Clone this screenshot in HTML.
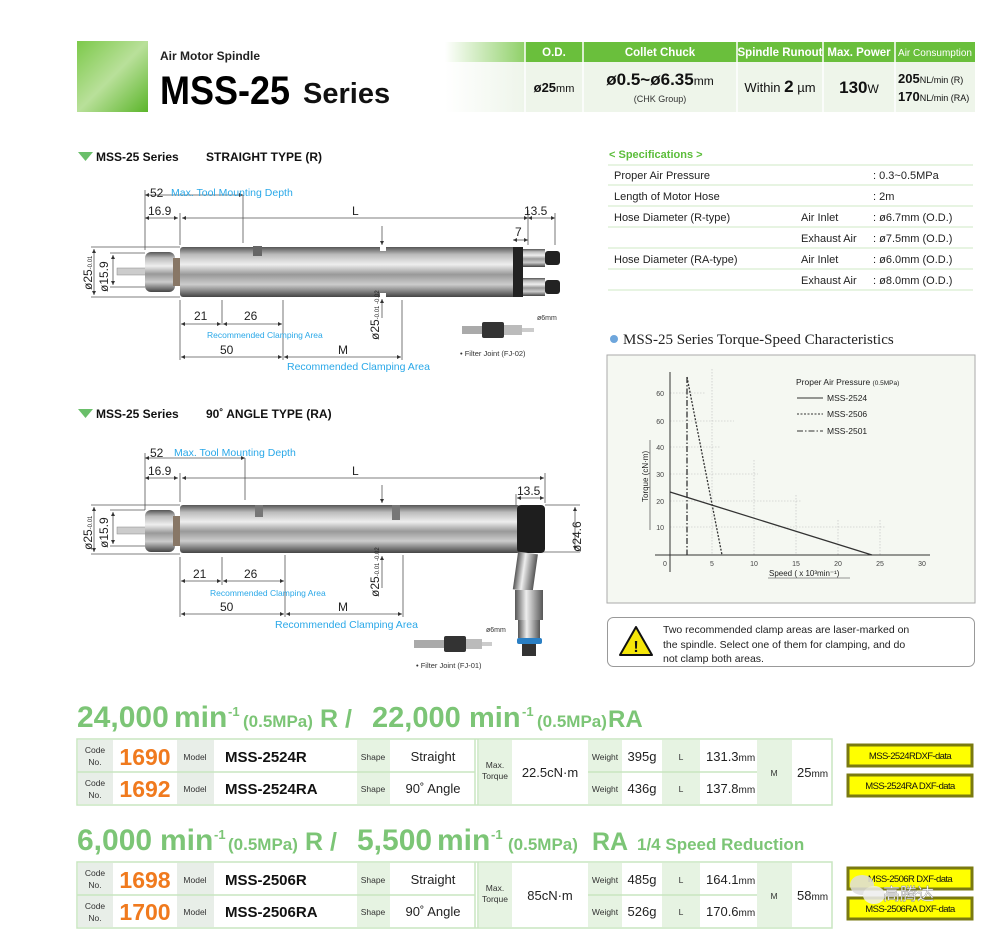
<!DOCTYPE html>
<html><head><meta charset="utf-8"><style>
body{margin:0;background:#fff;width:1000px;height:939px;overflow:hidden}
svg{display:block;font-family:"Liberation Sans","Noto Sans CJK SC",sans-serif}
</style></head><body>
<svg width="1000" height="939" viewBox="0 0 1000 939" xmlns="http://www.w3.org/2000/svg">
<defs>
<linearGradient id="gsq" x1="0" y1="0" x2="1" y2="1"><stop offset="0" stop-color="#7cc94a"/><stop offset="0.5" stop-color="#b9e09a"/><stop offset="1" stop-color="#5bb52a"/></linearGradient>
<linearGradient id="gfade" x1="0" x2="1"><stop offset="0" stop-color="#fff"/><stop offset="1" stop-color="#8fd068"/></linearGradient>
<linearGradient id="gfade2" x1="0" x2="1"><stop offset="0" stop-color="#fff"/><stop offset="1" stop-color="#eef5ea"/></linearGradient>
<linearGradient id="metal" x1="0" y1="0" x2="0" y2="1"><stop offset="0" stop-color="#555"/><stop offset="0.15" stop-color="#bbb"/><stop offset="0.35" stop-color="#eee"/><stop offset="0.55" stop-color="#999"/><stop offset="0.75" stop-color="#ccc"/><stop offset="1" stop-color="#444"/></linearGradient>
<linearGradient id="metalv" x1="0" y1="0" x2="1" y2="0"><stop offset="0" stop-color="#555"/><stop offset="0.4" stop-color="#eee"/><stop offset="1" stop-color="#555"/></linearGradient>
<marker id="ar" viewBox="0 0 6 6" refX="6" refY="3" markerWidth="5" markerHeight="5" orient="auto-start-reverse"><path d="M0,0L6,3L0,6z" fill="#333"/></marker>
</defs>

<!-- HEADER -->
<rect x="77" y="41" width="71" height="71" fill="url(#gsq)"/>
<text x="160" y="60" font-size="12" font-weight="bold" fill="#222">Air Motor Spindle</text>
<text x="160" y="104" font-size="40" font-weight="bold" fill="#000" textLength="130" lengthAdjust="spacingAndGlyphs">MSS-25</text>
<text x="303" y="103" font-size="29" font-weight="bold" fill="#111">Series</text>

<rect x="445" y="42" width="80" height="20" fill="url(#gfade)"/>
<rect x="445" y="62" width="80" height="50" fill="url(#gfade2)"/>
<rect x="525" y="42" width="450" height="20" fill="#6abf3c"/>
<rect x="525" y="62" width="450" height="50" fill="#eef5ea"/>
<g stroke="#fff" stroke-width="1.5"><line x1="525" y1="42" x2="525" y2="112"/><line x1="583" y1="42" x2="583" y2="112"/><line x1="737" y1="42" x2="737" y2="112"/><line x1="823" y1="42" x2="823" y2="112"/><line x1="895" y1="42" x2="895" y2="112"/></g>
<g fill="#fff" font-size="11.5" text-anchor="middle" font-weight="bold">
<text x="554" y="56">O.D.</text><text x="660" y="56">Collet Chuck</text><text x="780" y="56">Spindle Runout</text><text x="859" y="56">Max. Power</text><text x="935" y="56" font-size="10" font-weight="normal">Air Consumption</text></g>
<text x="554" y="92" font-size="13" text-anchor="middle" fill="#111"><tspan font-weight="bold">ø25</tspan><tspan font-size="11">mm</tspan></text>
<text x="660" y="85" font-size="17" text-anchor="middle" fill="#111"><tspan font-weight="bold">ø0.5~ø6.35</tspan><tspan font-size="12">mm</tspan></text>
<text x="660" y="102" font-size="9" text-anchor="middle" fill="#333">(CHK Group)</text>
<text x="780" y="92" font-size="13" text-anchor="middle" fill="#111">Within <tspan font-weight="bold" font-size="17">2</tspan> µm</text>
<text x="859" y="93" font-size="17" font-weight="bold" text-anchor="middle" fill="#111">130<tspan font-size="12" font-weight="normal">W</tspan></text>
<text x="898" y="83" font-size="13" font-weight="bold" fill="#111">205<tspan font-size="9" font-weight="normal">NL/min (R)</tspan></text>
<text x="898" y="101" font-size="13" font-weight="bold" fill="#111">170<tspan font-size="9" font-weight="normal">NL/min (RA)</tspan></text>

<!-- SECTION TITLES -->
<path d="M78,152 L93,152 L85.5,161z" fill="#6abf6a"/>
<text y="161" font-size="12" font-weight="bold" fill="#111"><tspan x="96">MSS-25 Series</tspan><tspan x="206">STRAIGHT TYPE (R)</tspan></text>
<path d="M78,409 L93,409 L85.5,418z" fill="#6abf6a"/>
<text y="418" font-size="12" font-weight="bold" fill="#111"><tspan x="96">MSS-25 Series</tspan><tspan x="206">90˚ ANGLE TYPE (RA)</tspan></text>

<!-- DRAWING 1 -->
<g stroke="#555" stroke-width="0.8" fill="none">
<line x1="145" y1="195" x2="243" y2="195" marker-start="url(#ar)" marker-end="url(#ar)"/>
<line x1="145" y1="190" x2="145" y2="250"/><line x1="243" y1="195" x2="243" y2="243"/>
<line x1="145" y1="218" x2="178" y2="218" marker-start="url(#ar)" marker-end="url(#ar)"/>
<line x1="180" y1="213" x2="180" y2="245"/>
<line x1="182" y1="218" x2="528" y2="218" marker-start="url(#ar)" marker-end="url(#ar)"/>
<line x1="528" y1="218" x2="555" y2="218" marker-start="url(#ar)" marker-end="url(#ar)"/>
<line x1="555" y1="213" x2="555" y2="245"/><line x1="528" y1="210" x2="528" y2="245"/>
<line x1="513" y1="240" x2="528" y2="240" marker-start="url(#ar)" marker-end="url(#ar)"/>
<line x1="382" y1="226" x2="382" y2="245" marker-end="url(#ar)"/>
<line x1="91" y1="247" x2="180" y2="247"/><line x1="91" y1="297" x2="180" y2="297"/>
<line x1="94" y1="249" x2="94" y2="295" marker-start="url(#ar)" marker-end="url(#ar)"/>
<line x1="110" y1="253" x2="145" y2="253"/><line x1="110" y1="287" x2="145" y2="287"/>
<line x1="113" y1="255" x2="113" y2="285" marker-start="url(#ar)" marker-end="url(#ar)"/>
<line x1="180" y1="300" x2="180" y2="360"/><line x1="222" y1="300" x2="222" y2="325"/><line x1="283" y1="300" x2="283" y2="360"/><line x1="402" y1="300" x2="402" y2="360"/>
<line x1="181" y1="324" x2="221" y2="324" marker-start="url(#ar)" marker-end="url(#ar)"/>
<line x1="223" y1="324" x2="282" y2="324" marker-start="url(#ar)" marker-end="url(#ar)"/>
<line x1="181" y1="357" x2="282" y2="357" marker-start="url(#ar)" marker-end="url(#ar)"/>
<line x1="284" y1="357" x2="401" y2="357" marker-start="url(#ar)" marker-end="url(#ar)"/>
<line x1="382" y1="318" x2="382" y2="299" marker-end="url(#ar)"/>
</g>
<rect x="117" y="268" width="30" height="7" fill="#ccc" stroke="#888" stroke-width="0.5"/>
<rect x="145" y="252" width="30" height="40" rx="6" fill="url(#metal)"/>
<rect x="173" y="258" width="8" height="28" fill="#876"/>
<rect x="180" y="247" width="340" height="50" rx="3" fill="url(#metal)"/>
<rect x="253" y="246" width="9" height="10" fill="#666"/>
<rect x="380" y="246" width="6" height="5" fill="#fff"/><rect x="380" y="293" width="6" height="5" fill="#fff"/>
<rect x="513" y="247" width="10" height="50" fill="#222"/>
<rect x="523" y="249" width="22" height="18" fill="url(#metal)"/><rect x="523" y="278" width="22" height="18" fill="url(#metal)"/>
<rect x="545" y="251" width="15" height="14" rx="3" fill="#222"/><rect x="545" y="280" width="15" height="14" rx="3" fill="#222"/>
<g font-size="12" fill="#222"><text x="150" y="197">52</text><text x="148" y="215">16.9</text><text x="352" y="215">L</text><text x="524" y="215">13.5</text><text x="515" y="236">7</text>
<text x="194" y="320">21</text><text x="244" y="320">26</text><text x="220" y="354">50</text><text x="338" y="354">M</text>
<text transform="translate(92 290) rotate(-90)">ø25<tspan font-size="6">-0.01</tspan></text>
<text transform="translate(108 292) rotate(-90)">ø15.9</text>
<text transform="translate(379 340) rotate(-90)">ø25<tspan font-size="6">-0.01 -0.02</tspan></text></g>
<g fill="#2aa8e8" font-size="10.5"><text x="171" y="196">Max. Tool Mounting Depth</text><text x="207" y="338" font-size="8.5">Recommended Clamping Area</text><text x="287" y="370">Recommended Clamping Area</text></g>
<rect x="462" y="326" width="20" height="8" fill="#aaa"/><rect x="482" y="322" width="22" height="16" rx="2" fill="#333"/><rect x="504" y="325" width="18" height="10" fill="#bbb"/><rect x="522" y="328" width="12" height="4" fill="#ccc"/>
<text x="537" y="320" font-size="7" fill="#333">ø6mm</text>
<text x="460" y="356" font-size="7.5" fill="#333">• Filter Joint (FJ-02)</text>

<!-- DRAWING 2 -->
<g stroke="#555" stroke-width="0.8" fill="none">
<line x1="145" y1="458" x2="245" y2="458" marker-start="url(#ar)" marker-end="url(#ar)"/>
<line x1="145" y1="453" x2="145" y2="510"/><line x1="245" y1="458" x2="245" y2="500"/>
<line x1="145" y1="478" x2="178" y2="478" marker-start="url(#ar)" marker-end="url(#ar)"/>
<line x1="180" y1="473" x2="180" y2="502"/>
<line x1="182" y1="478" x2="544" y2="478" marker-start="url(#ar)" marker-end="url(#ar)"/>
<line x1="545" y1="473" x2="545" y2="503"/>
<line x1="517" y1="498" x2="544" y2="498" marker-start="url(#ar)" marker-end="url(#ar)"/><line x1="516" y1="494" x2="516" y2="505"/>
<line x1="382" y1="485" x2="382" y2="503" marker-end="url(#ar)"/>
<line x1="91" y1="505" x2="180" y2="505"/><line x1="91" y1="554" x2="180" y2="554"/>
<line x1="94" y1="507" x2="94" y2="552" marker-start="url(#ar)" marker-end="url(#ar)"/>
<line x1="110" y1="510" x2="145" y2="510"/><line x1="110" y1="546" x2="145" y2="546"/>
<line x1="113" y1="512" x2="113" y2="544" marker-start="url(#ar)" marker-end="url(#ar)"/>
<line x1="545" y1="505" x2="580" y2="505"/><line x1="540" y1="552" x2="580" y2="552"/>
<line x1="575" y1="507" x2="575" y2="550" marker-start="url(#ar)" marker-end="url(#ar)"/>
<line x1="180" y1="557" x2="180" y2="617"/><line x1="222" y1="557" x2="222" y2="585"/><line x1="285" y1="555" x2="285" y2="617"/><line x1="403" y1="555" x2="403" y2="617"/>
<line x1="181" y1="581" x2="221" y2="581" marker-start="url(#ar)" marker-end="url(#ar)"/>
<line x1="223" y1="581" x2="284" y2="581" marker-start="url(#ar)" marker-end="url(#ar)"/>
<line x1="181" y1="614" x2="284" y2="614" marker-start="url(#ar)" marker-end="url(#ar)"/>
<line x1="286" y1="614" x2="402" y2="614" marker-start="url(#ar)" marker-end="url(#ar)"/>
<line x1="382" y1="588" x2="382" y2="556" marker-end="url(#ar)"/>
</g>
<rect x="117" y="527" width="30" height="7" fill="#ccc" stroke="#888" stroke-width="0.5"/>
<rect x="145" y="510" width="30" height="42" rx="6" fill="url(#metal)"/>
<rect x="173" y="516" width="8" height="30" fill="#876"/>
<rect x="180" y="505" width="340" height="48" rx="3" fill="url(#metal)"/>
<rect x="255" y="505" width="8" height="12" fill="#777"/><rect x="392" y="505" width="8" height="15" fill="#777"/>
<rect x="517" y="505" width="28" height="48" rx="4" fill="#1e1e1e"/>
<rect x="518" y="553" width="20" height="38" fill="url(#metalv)" transform="rotate(8 528 553)"/>
<rect x="515" y="590" width="28" height="30" fill="url(#metalv)"/>
<rect x="518" y="620" width="22" height="18" fill="url(#metalv)"/>
<rect x="517" y="638" width="25" height="6" rx="2" fill="#2a7fc4"/>
<rect x="522" y="644" width="14" height="12" fill="#333"/>
<g font-size="12" fill="#222"><text x="150" y="457">52</text><text x="148" y="475">16.9</text><text x="352" y="475">L</text><text x="517" y="495">13.5</text>
<text x="193" y="578">21</text><text x="244" y="578">26</text><text x="220" y="611">50</text><text x="338" y="611">M</text>
<text transform="translate(92 550) rotate(-90)">ø25<tspan font-size="6">-0.01</tspan></text>
<text transform="translate(108 548) rotate(-90)">ø15.9</text>
<text transform="translate(379 597) rotate(-90)">ø25<tspan font-size="6">-0.01 -0.02</tspan></text>
<text transform="translate(581 552) rotate(-90)">ø24.6</text></g>
<g fill="#2aa8e8" font-size="10.5"><text x="174" y="456">Max. Tool Mounting Depth</text><text x="210" y="596" font-size="8.5">Recommended Clamping Area</text><text x="275" y="628">Recommended Clamping Area</text></g>
<rect x="414" y="640" width="30" height="8" fill="#aaa"/><rect x="444" y="636" width="22" height="16" rx="2" fill="#333"/><rect x="466" y="639" width="16" height="10" fill="#bbb"/><rect x="482" y="642" width="10" height="4" fill="#ccc"/>
<text x="486" y="632" font-size="7" fill="#333">ø6mm</text>
<text x="416" y="668" font-size="7.5" fill="#333">• Filter Joint (FJ-01)</text>

<!-- SPECS -->
<text x="609" y="158" font-size="11" font-weight="bold" fill="#5bbd3a">&lt; Specifications &gt;</text>
<g stroke="#cfe8c4" stroke-width="1"><line x1="608" y1="165" x2="973" y2="165"/><line x1="608" y1="185" x2="973" y2="185"/><line x1="608" y1="206" x2="973" y2="206"/><line x1="608" y1="227" x2="973" y2="227"/><line x1="608" y1="248" x2="973" y2="248"/><line x1="608" y1="269" x2="973" y2="269"/><line x1="608" y1="290" x2="973" y2="290"/></g>
<g font-size="11" fill="#222">
<text x="614" y="179">Proper Air Pressure</text><text x="873" y="179">: 0.3~0.5MPa</text>
<text x="614" y="200">Length of Motor Hose</text><text x="873" y="200">: 2m</text>
<text x="614" y="221">Hose Diameter (R-type)</text><text x="801" y="221">Air Inlet</text><text x="873" y="221">: ø6.7mm (O.D.)</text>
<text x="801" y="242">Exhaust Air</text><text x="873" y="242">: ø7.5mm (O.D.)</text>
<text x="614" y="263">Hose Diameter (RA-type)</text><text x="801" y="263">Air Inlet</text><text x="873" y="263">: ø6.0mm (O.D.)</text>
<text x="801" y="284">Exhaust Air</text><text x="873" y="284">: ø8.0mm (O.D.)</text></g>

<!-- CHART -->
<circle cx="614" cy="339" r="4" fill="#6ea6dc"/>
<text x="623" y="344" font-size="15" fill="#222" font-family="'Liberation Serif',serif">MSS-25 Series Torque-Speed Characteristics</text>
<rect x="607" y="355" width="368" height="248" fill="#f5f8f2" stroke="#aaa" stroke-width="1"/>
<g stroke="#bbb" stroke-width="0.6" stroke-dasharray="1.5 1.5" fill="none">
<line x1="670" y1="527" x2="886" y2="527"/><line x1="670" y1="501" x2="802" y2="501"/><line x1="670" y1="474" x2="758" y2="474"/><line x1="670" y1="447" x2="720" y2="447"/><line x1="670" y1="421" x2="734" y2="421"/><line x1="670" y1="393" x2="706" y2="393"/>
<line x1="712" y1="369" x2="712" y2="555"/><line x1="754" y1="460" x2="754" y2="555"/><line x1="796" y1="495" x2="796" y2="555"/><line x1="838" y1="520" x2="838" y2="555"/><line x1="880" y1="520" x2="880" y2="555"/>
</g>
<g stroke="#333" stroke-width="1" fill="none">
<line x1="655" y1="555" x2="930" y2="555"/><line x1="670" y1="372" x2="670" y2="572"/>
<line x1="670" y1="492" x2="872" y2="555" stroke-width="1.3"/>
<line x1="687" y1="377" x2="722" y2="555" stroke-dasharray="2 1.5" stroke-width="1.3"/>
<line x1="687" y1="377" x2="687" y2="555" stroke-dasharray="6 2 1.5 2" stroke-width="1.3"/>
<line x1="797" y1="398" x2="823" y2="398"/><line x1="797" y1="414" x2="823" y2="414" stroke-dasharray="2 1.5"/><line x1="797" y1="431" x2="823" y2="431" stroke-dasharray="6 2 1.5 2"/>
<line x1="768" y1="578" x2="850" y2="578" stroke-width="0.6"/>
<line x1="650" y1="530" x2="650" y2="440" stroke-width="0.6"/>
</g>
<g font-size="7" fill="#444" text-anchor="end"><text x="664" y="396">60</text><text x="664" y="424">60</text><text x="664" y="450">40</text><text x="664" y="477">30</text><text x="664" y="504">20</text><text x="664" y="530">10</text></g>
<g font-size="7" fill="#444" text-anchor="middle"><text x="665" y="566">0</text><text x="712" y="566">5</text><text x="754" y="566">10</text><text x="796" y="566">15</text><text x="838" y="566">20</text><text x="880" y="566">25</text><text x="922" y="566">30</text></g>
<text x="769" y="576" font-size="8" fill="#222">Speed ( x 10³min⁻¹)</text>
<text transform="translate(648 502) rotate(-90)" font-size="8" fill="#222">Torque (cN·m)</text>
<g font-size="8.5" fill="#222"><text x="796" y="385">Proper Air Pressure <tspan font-size="6.5">(0.5MPa)</tspan></text><text x="827" y="401">MSS-2524</text><text x="827" y="417">MSS-2506</text><text x="827" y="434">MSS-2501</text></g>

<!-- WARNING -->
<rect x="607.5" y="617.5" width="367" height="49" rx="6" fill="#fff" stroke="#999"/>
<path d="M636,627 L652,655 L620,655z" fill="#f5e60a" stroke="#111" stroke-width="2" stroke-linejoin="round"/>
<text x="636" y="652" font-size="16" font-weight="bold" text-anchor="middle" fill="#111">!</text>
<g font-size="10.5" fill="#222"><text x="663" y="633">Two recommended clamp areas are laser-marked on</text><text x="663" y="648">the spindle. Select one of them for clamping, and do</text><text x="663" y="662">not clamp both areas.</text></g>

<!-- SPEED TITLES -->
<g fill="#7cc576" font-weight="bold">
<text x="77" y="727" font-size="30">24,000</text><text x="174" y="727" font-size="30">min</text><text x="228" y="716" font-size="13">-1</text>
<text x="243" y="727" font-size="17">(0.5MPa)</text><text x="320" y="727" font-size="25">R /</text>
<text x="372" y="727" font-size="29">22,000</text><text x="469" y="727" font-size="29">min</text><text x="522" y="716" font-size="13">-1</text>
<text x="537" y="727" font-size="17">(0.5MPa)</text><text x="608" y="727" font-size="24">RA</text>

<text x="77" y="850" font-size="30">6,000</text><text x="160" y="850" font-size="30">min</text><text x="214" y="839" font-size="13">-1</text>
<text x="228" y="850" font-size="17">(0.5MPa)</text><text x="305" y="850" font-size="25">R /</text>
<text x="357" y="850" font-size="30">5,500</text><text x="437" y="850" font-size="30">min</text><text x="491" y="839" font-size="13">-1</text>
<text x="508" y="850" font-size="17">(0.5MPa)</text><text x="592" y="850" font-size="25">RA</text>
<text x="637" y="850" font-size="17">1/4 Speed Reduction</text>
</g>

<!-- TABLES -->
<g id="t1">
<rect x="77" y="739" width="755" height="66" fill="#fff" stroke="#c8e6c0" stroke-width="1.5"/>
<g fill="#e8eee8"><rect x="78" y="740" width="35" height="64"/><rect x="177" y="740" width="37" height="64"/></g>
<g fill="#e6f3e2"><rect x="357" y="740" width="33" height="64"/><rect x="479" y="740" width="33" height="64"/><rect x="588" y="740" width="34" height="64"/><rect x="662" y="740" width="38" height="64"/><rect x="757" y="740" width="35" height="64"/></g>
<g stroke="#c8e6c0" stroke-width="1.5"><line x1="77" y1="772" x2="475" y2="772"/><line x1="588" y1="772" x2="757" y2="772"/><line x1="475" y1="739" x2="475" y2="805"/><line x1="478" y1="739" x2="478" y2="805"/></g>
</g>
<use href="#t1" y="123"/>

<g font-size="8.5" fill="#333" text-anchor="middle">
<text x="95" y="753">Code</text><text x="95" y="765">No.</text><text x="95" y="786">Code</text><text x="95" y="798">No.</text>
<text x="195" y="760">Model</text><text x="195" y="792">Model</text><text x="373" y="760">Shape</text><text x="373" y="792">Shape</text>
<text x="495" y="768">Max.</text><text x="495" y="779">Torque</text>
<text x="605" y="760">Weight</text><text x="605" y="792">Weight</text><text x="681" y="760">L</text><text x="681" y="792">L</text><text x="774" y="776">M</text>
<text x="95" y="876">Code</text><text x="95" y="888">No.</text><text x="95" y="909">Code</text><text x="95" y="921">No.</text>
<text x="195" y="883">Model</text><text x="195" y="915">Model</text><text x="373" y="883">Shape</text><text x="373" y="915">Shape</text>
<text x="495" y="891">Max.</text><text x="495" y="902">Torque</text>
<text x="605" y="883">Weight</text><text x="605" y="915">Weight</text><text x="681" y="883">L</text><text x="681" y="915">L</text><text x="774" y="899">M</text>
</g>
<g font-size="23" font-weight="bold" fill="#f07a1e" text-anchor="middle"><text x="145" y="765">1690</text><text x="145" y="797">1692</text><text x="145" y="888">1698</text><text x="145" y="920">1700</text></g>
<g font-size="15" font-weight="bold" fill="#111"><text x="225" y="762">MSS-2524R</text><text x="225" y="794">MSS-2524RA</text><text x="225" y="885">MSS-2506R</text><text x="225" y="917">MSS-2506RA</text></g>
<g font-size="13" fill="#222" text-anchor="middle"><text x="433" y="761">Straight</text><text x="433" y="793">90˚ Angle</text><text x="433" y="884">Straight</text><text x="433" y="916">90˚ Angle</text>
<text x="550" y="777">22.5cN·m</text><text x="550" y="900">85cN·m</text>
<text x="642" y="761">395g</text><text x="642" y="793">436g</text><text x="642" y="884">485g</text><text x="642" y="916">526g</text></g>
<g font-size="13" fill="#222"><text x="706" y="761">131.3<tspan font-size="10">mm</tspan></text><text x="706" y="793">137.8<tspan font-size="10">mm</tspan></text><text x="706" y="884">164.1<tspan font-size="10">mm</tspan></text><text x="706" y="916">170.6<tspan font-size="10">mm</tspan></text>
<text x="797" y="777">25<tspan font-size="10">mm</tspan></text><text x="797" y="900">58<tspan font-size="10">mm</tspan></text></g>

<!-- DXF buttons -->
<g stroke="#7a7a10" stroke-width="3" fill="#ffff00">
<rect x="848" y="745" width="124" height="21"/><rect x="848" y="775" width="124" height="21"/>
<rect x="848" y="868" width="124" height="21"/><rect x="848" y="898" width="124" height="21"/></g>
<g font-size="9.5" fill="#111" text-anchor="middle" letter-spacing="-0.6">
<text x="910" y="759">MSS-2524RDXF-data</text><text x="910" y="789">MSS-2524RA DXF-data</text><text x="910" y="882">MSS-2506R DXF-data</text><text x="910" y="912">MSS-2506RA DXF-data</text></g>
<g opacity="0.85"><ellipse cx="862" cy="885" rx="12" ry="10" fill="#ddd"/><ellipse cx="874" cy="895" rx="11" ry="9" fill="#eee"/></g>
<text x="883" y="900" font-size="17" fill="#fff" stroke="#888" stroke-width="0.4" font-family="'Noto Sans CJK SC',sans-serif">高腾达</text>
</svg>
</body></html>
